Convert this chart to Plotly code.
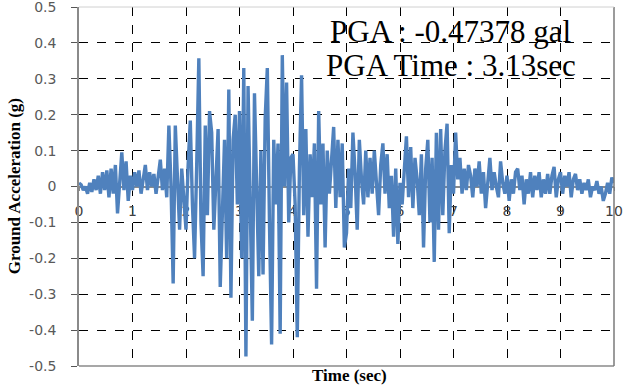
import numpy as np
import plotly.graph_objects as go

# sampling interval (s) of the digitised record
dt = 0.04

acc_0_1 = [0.01, 0.005, -0.01, 0.0, -0.02, 0.01, -0.015, 0.02, -0.01, 0.03, -0.02, 0.04, -0.01,
           0.045, -0.03, 0.05, -0.02, 0.06, -0.075, 0.02, 0.095, -0.01, 0.07, -0.04, 0.03]
acc_1_2 = [-0.01, 0.04, 0.0, 0.045, -0.02, 0.03, 0.06, -0.01, 0.04, 0.0, 0.035, -0.02, 0.03,
           0.075, -0.01, 0.05, -0.03, 0.17, 0.0, -0.27, 0.17, 0.04, -0.12, 0.05, -0.03]
acc_2_3 = [-0.12, 0.06, 0.184, -0.05, -0.2, 0.06, 0.357, -0.1, -0.25, 0.17, -0.08, 0.21, 0.15,
           -0.12, 0.05, 0.16, -0.28, -0.1, 0.13, -0.2, 0.27, -0.31, 0.13, 0.2, -0.05]
acc_3_4 = [0.21, -0.2, 0.33, -0.47378, 0.28, -0.1, -0.374, 0.26, -0.05, -0.25, 0.1, -0.245, 0.19,
           0.33, -0.1, -0.44, 0.13, -0.05, 0.12, -0.41, 0.366, 0.0, 0.29, -0.1, 0.08]
acc_4_5 = [0.09, -0.05, -0.42, 0.05, 0.31, -0.08, 0.16, -0.14, 0.09, -0.03, 0.12, -0.285, 0.21,
           -0.05, 0.12, -0.17, 0.1, -0.02, 0.08, 0.166, -0.06, 0.13, -0.03, 0.12, -0.17]
acc_5_6 = [-0.13, 0.05, -0.06, 0.15, 0.04, -0.12, 0.13, 0.02, -0.05, 0.1, -0.03, 0.08, -0.02,
           0.1, 0.0, -0.08, 0.06, 0.12, -0.02, 0.09, -0.06, 0.03, -0.14, 0.05, -0.16]
acc_6_7 = [0.01, -0.05, 0.06, 0.14, -0.03, 0.11, -0.06, 0.08, 0.02, -0.08, 0.09, -0.17, 0.05,
           0.13, -0.1, 0.08, -0.21, 0.15, -0.12, 0.16, -0.08, 0.1, 0.175, -0.13, 0.06]
acc_7_8 = [-0.02, 0.15, 0.02, 0.08, -0.02, 0.05, -0.01, 0.06, 0.03, -0.03, 0.05, 0.0, 0.07,
           -0.02, 0.04, -0.06, 0.02, 0.08, -0.01, 0.04, 0.0, -0.03, 0.07, 0.01, -0.02]
acc_8_9 = [0.03, -0.04, 0.02, -0.02, 0.04, 0.05, -0.01, 0.03, -0.05, 0.02, -0.02, 0.04, -0.03,
           0.03, -0.01, 0.04, -0.03, 0.02, -0.02, 0.035, -0.02, 0.03, 0.055, -0.03, 0.02]
acc_9_10 = [0.04, -0.02, 0.03, 0.0, 0.04, -0.03, 0.02, 0.035, -0.01, 0.02, -0.02, 0.01, -0.01,
            0.02, -0.03, 0.0, -0.01, 0.015, -0.02, 0.0, -0.04, -0.02, 0.01, -0.02, 0.025, 0.01]

acc = (acc_0_1 + acc_1_2 + acc_2_3 + acc_3_4 + acc_4_5 + acc_5_6 + acc_6_7 + acc_7_8
       + acc_8_9 + acc_9_10)
time = [round(i * dt, 2) for i in range(len(acc))]

x_ticks = list(range(0, 11))
y_ticks = [-0.5, -0.4, -0.3, -0.2, -0.1, 0, 0.1, 0.2, 0.3, 0.4, 0.5]
y_tick_text = ["-0.5", "-0.4", "-0.3", "-0.2", "-0.1", "0", "0.1", "0.2", "0.3", "0.4", "0.5"]

pga_text = "PGA : -0.47378 gal"
pga_time_text = "PGA Time : 3.13sec"

fig = go.Figure()
fig.add_trace(go.Scatter(x=time, y=acc, mode="lines",
                         line=dict(color="#4F81BD", width=3.4), showlegend=False,
                         hoverinfo="skip"))

fig.update_layout(
    width=626, height=385,
    margin=dict(l=79, r=12, t=7, b=19),
    paper_bgcolor="white", plot_bgcolor="white",
    xaxis=dict(range=[0, 10], tickvals=x_ticks, ticktext=[str(v) for v in x_ticks],
               anchor="free", position=0.5, layer="below traces", automargin=False,
               showgrid=True, gridcolor="black", gridwidth=1, griddash="dash",
               showline=True, linecolor="#8a8a8a", linewidth=1.5,
               ticks="outside", ticklen=4, tickcolor="#8a8a8a",
               ticklabelstandoff=8,
               tickfont=dict(family="DejaVu Sans", size=14, color="#404040"),
               zeroline=False),
    yaxis=dict(range=[-0.5, 0.5001], tickvals=y_ticks, ticktext=y_tick_text,
               automargin=False,
               showgrid=True, gridcolor="black", gridwidth=1, griddash="dash",
               showline=True, linecolor="#8a8a8a", linewidth=1.5,
               ticks="outside", ticklen=6, tickcolor="#555555",
               ticklabelstandoff=12, ticklabeloverflow="allow",
               tickfont=dict(family="DejaVu Sans", size=14, color="#595959"),
               zeroline=False),
)

# plot-area border (bottom, right, top)
fig.add_shape(type="line", xref="paper", yref="paper", x0=0, x1=1, y0=0, y1=0,
              line=dict(color="#8a8a8a", width=1.5))
fig.add_shape(type="line", xref="paper", yref="paper", x0=1, x1=1, y0=0, y1=1,
              line=dict(color="#7a7a7a", width=1.5))
fig.add_shape(type="line", xref="paper", yref="paper", x0=0, x1=1, y0=1, y1=1,
              line=dict(color="#d0d0d0", width=1))

fig.add_annotation(text=pga_text, xref="paper", yref="paper", x=0.695, y=0.933,
                   showarrow=False, xanchor="center", yanchor="middle",
                   font=dict(family="Liberation Serif", size=31, color="black"))
fig.add_annotation(text=pga_time_text, xref="paper", yref="paper", x=0.695, y=0.838,
                   showarrow=False, xanchor="center", yanchor="middle",
                   font=dict(family="Liberation Serif", size=31, color="black"))

fig.add_annotation(text="<b>Time (sec)</b>", xref="paper", yref="paper", x=0.505, y=-0.026,
                   showarrow=False, xanchor="center", yanchor="middle",
                   font=dict(family="Liberation Serif", size=17, color="black"))
fig.add_annotation(text="<b>Ground Acceleration (g)</b>", xref="paper", yref="paper",
                   x=-0.12, y=0.5, textangle=-90, showarrow=False,
                   xanchor="center", yanchor="middle",
                   font=dict(family="Liberation Serif", size=17, color="black"))

fig.write_html("out.html")
